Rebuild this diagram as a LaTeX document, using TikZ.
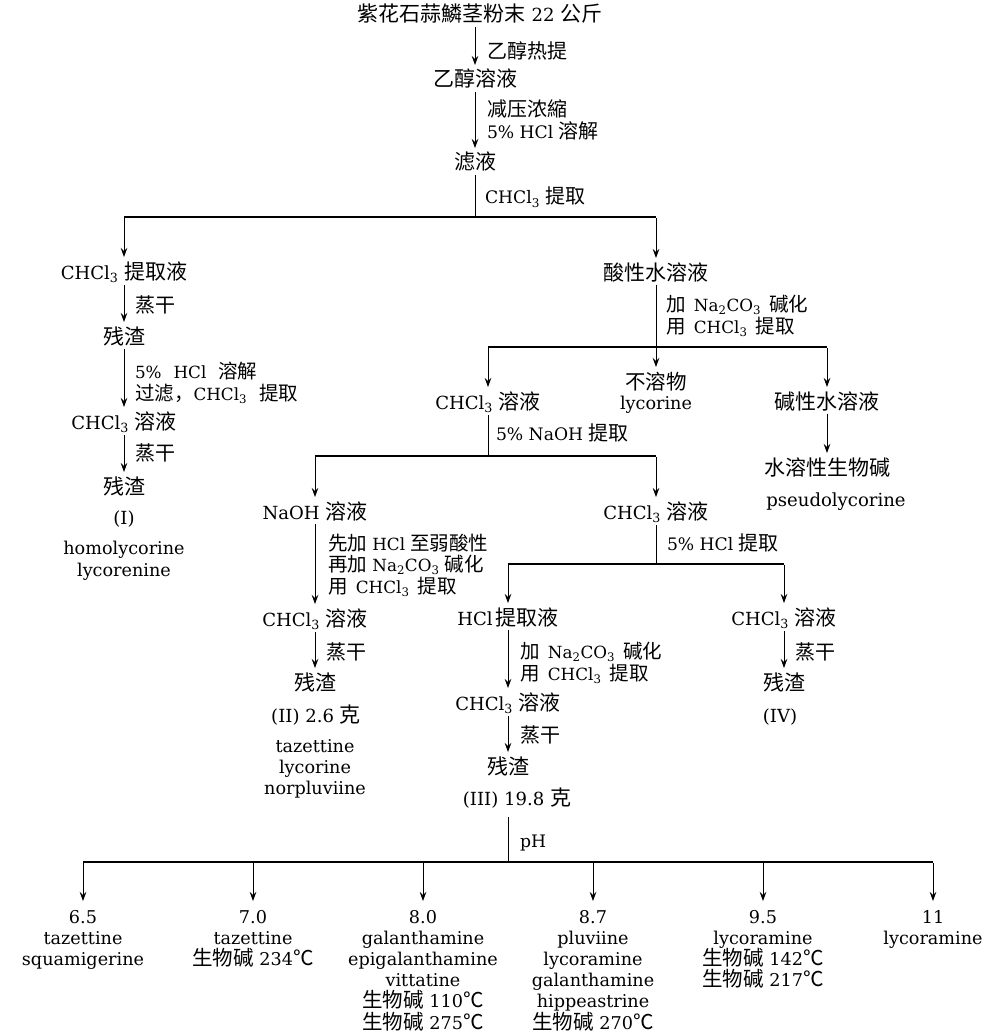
\documentclass[tikz,border=0pt]{standalone}
\usepackage{fontspec}
\setmainfont{DejaVu Serif}[Scale=0.86]
\newfontfamily\cjk{Noto Sans CJK SC}
\usetikzlibrary{arrows.meta}
\newcommand\ZH[1]{{\cjk #1}}
\newcommand\R{\rule{0pt}{19pt}}
\newcommand\sub[1]{\textsubscript{#1}}
\newcommand\gap{\hspace{12pt}}
\newcommand\fsz[2]{\fontsize{#1}{#2}\selectfont\lineskiplimit=-30pt\lineskip=0pt}
\tikzset{
  txt/.style={inner sep=0pt, outer sep=0pt, anchor=north, font=\fsz{21}{21}},
  lab/.style={inner sep=0pt, outer sep=0pt, anchor=north west, align=left, font=\fsz{20}{20.8}},
  lab2/.style={lab, font=\fsz{19.5}{22}},
  stk/.style={inner sep=0pt, outer sep=0pt, anchor=north, align=center, font=\fsz{20.5}{21.2}},
  ln/.style={line width=0.8pt, shorten <=3pt},
  arr/.style={line width=0.8pt, -{Stealth[length=9pt,width=6.5pt,inset=3pt]}, shorten <=3pt, shorten >=3pt},
  bar/.style={line width=1.5pt},
}
\begin{document}
\begin{tikzpicture}[x=1pt,y=-1pt]
\useasboundingbox (0,0) rectangle (993,1035);
% ---------- trunk ----------
\node[txt] (n0) at (480,3) {\R\ZH{紫花石蒜鱗茎粉末} 22 \ZH{公斤}};
\node[txt] (n1) at (475,68) {\R\ZH{乙醇溶液}};
\node[txt] (n2) at (475,151) {\R\ZH{滤液}};
\node[lab] (la0) at (487,40) {\R\ZH{乙醇热提}};
\node[lab,font=\fsz{20}{22}] (la1) at (487,98) {\R\ZH{减压浓縮}\\5\% HCl \ZH{溶解}};
\node[lab] (la2) at (485,185) {\R CHCl\sub3 \ZH{提取}};
\coordinate (b1) at (475,217);
\draw[arr] (n1.north |- n0.south) -- (n1.north);
\draw[arr] (n1.south) -- (n2.north);
\draw[ln] (n2.south) -- (b1);
% ---------- left branch ----------
\node[txt] (l1) at (124,260) {\R CHCl\sub3 \ZH{提取液}};
\node[lab] (la3) at (135,293) {\R\ZH{蒸干}};
\node[txt] (l2) at (124,325) {\R\ZH{残渣}};
\node[lab2] (la4) at (135,359) {\R 5\%\gap HCl\gap\ZH{溶解}\\\ZH{过滤，}CHCl\sub3\gap\ZH{提取}};
\node[txt] (l3) at (124,410) {\R CHCl\sub3 \ZH{溶液}};
\node[lab] (la5) at (135,441) {\R\ZH{蒸干}};
\node[txt] (l4) at (124,475) {\R\ZH{残渣}};
\node[txt] (l5) at (124,505) {\R(I)};
\node[stk,font=\fsz{20.5}{22}] (l6) at (124,535) {\R homolycorine\\lycorenine};
\draw[arr] (l1.south) -- (l2.north);
\draw[arr] (l2.south) -- (l3.north);
\draw[arr] (l3.south) -- (l4.north);
% ---------- right branch ----------
\node[txt] (r1) at (656,261) {\R\ZH{酸性水溶液}};
\node[lab2] (la6) at (666,292) {\R\ZH{加}\enspace Na\sub2CO\sub3\enspace\ZH{碱化}\\\ZH{用}\enspace CHCl\sub3\enspace\ZH{提取}};
\draw[bar] (l1.north |- b1) -- (r1.north |- b1);
\draw[arr,shorten <=0.75pt] (l1.north |- b1) -- (l1.north);
\draw[arr,shorten <=0.75pt] (r1.north |- b1) -- (r1.north);
\coordinate (b2) at (656,347);
\draw[ln] (r1.south) -- (b2);
\node[txt] (m1) at (488,390) {\R CHCl\sub3 \ZH{溶液}};
\node[stk,font=\fsz{20.5}{20.5}] (m2) at (656,370) {\R\ZH{不溶物}\\lycorine};
\node[txt] (m3) at (827,390) {\R\ZH{碱性水溶液}};
\node[txt] (m4) at (827,456) {\R\ZH{水溶性生物碱}};
\node[txt] (m5) at (836,487) {\R pseudolycorine};
\draw[bar] (m1.north |- b2) -- (m3.north |- b2);
\draw[arr,shorten <=0.75pt] (m1.north |- b2) -- (m1.north);
\draw[arr,shorten <=0.75pt] (b2) -- (m2.north);
\draw[arr,shorten <=0.75pt] (m3.north |- b2) -- (m3.north);
\draw[arr] (m3.south) -- (m4.north);
\node[lab] (la7) at (496,421) {\R 5\% NaOH \ZH{提取}};
\coordinate (b3) at (488,456);
\draw[ln] (m1.south) -- (b3);
\node[txt] (p1) at (315,500) {\R NaOH \ZH{溶液}};
\node[txt] (q1) at (656,500) {\R CHCl\sub3 \ZH{溶液}};
\draw[bar] (p1.north |- b3) -- (q1.north |- b3);
\draw[arr,shorten <=0.75pt] (p1.north |- b3) -- (p1.north);
\draw[arr,shorten <=0.75pt] (q1.north |- b3) -- (q1.north);
% ---------- NaOH column ----------
\node[lab2,font=\fsz{19.5}{21.5}] (la8) at (328,531) {\R\ZH{先加} HCl \ZH{至弱酸性}\\\ZH{再加} Na\sub2CO\sub3 \ZH{碱化}\\\ZH{用}\enspace CHCl\sub3\enspace\ZH{提取}};
\node[txt] (p2) at (315,607) {\R CHCl\sub3 \ZH{溶液}};
\node[lab] (la9) at (326,640) {\R\ZH{蒸干}};
\node[txt] (p3) at (315,671) {\R\ZH{残渣}};
\node[txt] (p4) at (316,703) {\R(II) 2.6 \ZH{克}};
\node[stk] (p5) at (315,733) {\R tazettine\\lycorine\\norpluviine};
\draw[arr] (p1.south) -- (p2.north);
\draw[arr] (p2.south) -- (p3.north);
% ---------- second CHCl3 column ----------
\node[lab] (la10) at (667,531) {\R 5\% HCl \ZH{提取}};
\coordinate (b4) at (656,564);
\draw[ln] (q1.south) -- (b4);
\node[txt] (s1) at (508,606) {\R HCl\,\ZH{提取液}};
\node[txt] (t1) at (784,606) {\R CHCl\sub3 \ZH{溶液}};
\draw[bar] (s1.north |- b4) -- (t1.north |- b4);
\draw[arr,shorten <=0.75pt] (s1.north |- b4) -- (s1.north);
\draw[arr,shorten <=0.75pt] (t1.north |- b4) -- (t1.north);
\node[lab2] (la11) at (520,639) {\R\ZH{加}\enspace Na\sub2CO\sub3\enspace\ZH{碱化}\\\ZH{用}\enspace CHCl\sub3\enspace\ZH{提取}};
\node[txt] (s2) at (508,691) {\R CHCl\sub3 \ZH{溶液}};
\node[lab] (la12) at (520,723) {\R\ZH{蒸干}};
\node[txt] (s3) at (508,755) {\R\ZH{残渣}};
\node[txt] (s4) at (517,786) {\R(III) 19.8 \ZH{克}};
\node[lab] (la13) at (520,828) {\R pH};
\draw[arr] (s1.south) -- (s2.north);
\draw[arr] (s2.south) -- (s3.north);
\coordinate (b5) at (508,862);
\draw[ln,shorten <=9pt] (b5 |- s4.south) -- (b5);
\node[lab] (la14) at (795,640) {\R\ZH{蒸干}};
\node[txt] (t2) at (784,671) {\R\ZH{残渣}};
\node[txt] (t3) at (780,703) {\R(IV)};
\draw[arr] (t1.south) -- (t2.north);
% ---------- pH fractions ----------
\node[stk] (c1) at (83,904) {\R 6.5\\tazettine\\squamigerine};
\node[stk] (c2) at (253,904) {\R 7.0\\tazettine\\\ZH{生物碱} 234\ZH{℃}};
\node[stk] (c3) at (423,904) {\R 8.0\\galanthamine\\epigalanthamine\\vittatine\\\ZH{生物碱} 110\ZH{℃}\\\ZH{生物碱} 275\ZH{℃}};
\node[stk] (c4) at (593,904) {\R 8.7\\pluviine\\lycoramine\\galanthamine\\hippeastrine\\\ZH{生物碱} 270\ZH{℃}};
\node[stk] (c5) at (763,904) {\R 9.5\\lycoramine\\\ZH{生物碱} 142\ZH{℃}\\\ZH{生物碱} 217\ZH{℃}};
\node[stk] (c6) at (933,904) {\R 11\\lycoramine};
\draw[bar] (c1.north |- b5) -- (c6.north |- b5);
\foreach \c in {c1,c2,c3,c4,c5,c6}
  \draw[arr,shorten <=0.75pt] (\c.north |- b5) -- (\c.north);
\end{tikzpicture}
\end{document}
